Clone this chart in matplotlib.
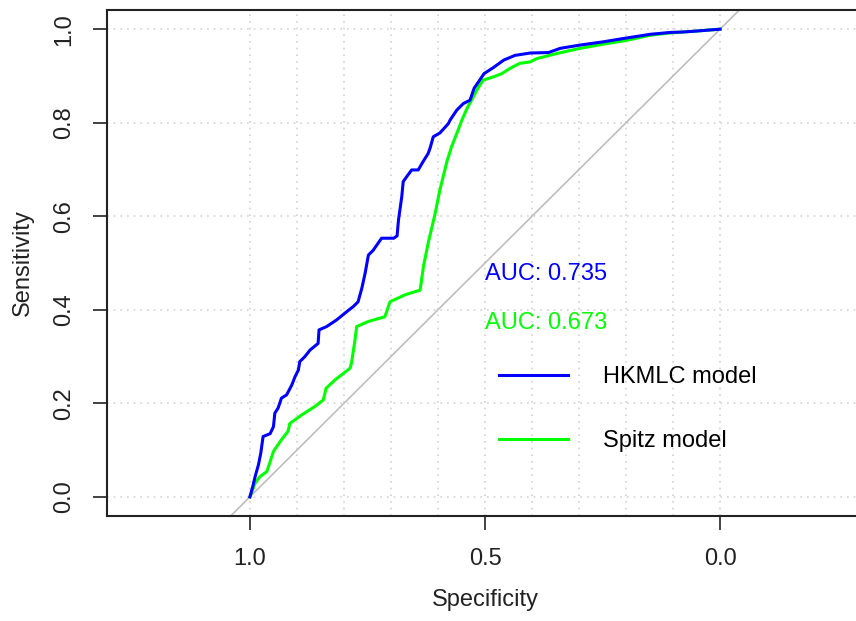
import matplotlib
matplotlib.use("Agg")
import matplotlib.pyplot as plt
import numpy as np

plt.rcParams['font.family'] = ['Liberation Sans', 'DejaVu Sans']

# Curvas ROC (especificidad, sensibilidad)
hkmlc_spec = [1.0, 0.994, 0.989, 0.982, 0.977, 0.972, 0.957, 0.950, 0.947, 0.940,
              0.933, 0.922, 0.911, 0.904, 0.897, 0.894, 0.883, 0.872, 0.855, 0.853,
              0.837, 0.816, 0.794, 0.780, 0.770, 0.762, 0.755, 0.748, 0.738, 0.720,
              0.694, 0.687, 0.684, 0.677, 0.674, 0.667, 0.656, 0.642, 0.631, 0.621,
              0.617, 0.610, 0.596, 0.578, 0.574, 0.560, 0.546, 0.532, 0.523, 0.514,
              0.502, 0.482, 0.460, 0.436, 0.404, 0.365, 0.340, 0.298, 0.248, 0.206,
              0.149, 0.106, 0.078, 0.050, 0.0]
hkmlc_sens = [0.0, 0.022, 0.043, 0.068, 0.093, 0.129, 0.135, 0.150, 0.179, 0.190,
              0.211, 0.218, 0.239, 0.257, 0.271, 0.289, 0.300, 0.314, 0.328, 0.357,
              0.364, 0.378, 0.396, 0.407, 0.417, 0.446, 0.478, 0.517, 0.527, 0.553,
              0.553, 0.558, 0.592, 0.642, 0.674, 0.684, 0.699, 0.699, 0.718, 0.734,
              0.745, 0.770, 0.778, 0.798, 0.806, 0.827, 0.841, 0.848, 0.874, 0.887,
              0.905, 0.918, 0.934, 0.944, 0.949, 0.950, 0.959, 0.966, 0.973, 0.980,
              0.989, 0.993, 0.994, 0.996, 1.0]

spitz_spec = [1.0, 0.989, 0.979, 0.964, 0.957, 0.950, 0.933, 0.919, 0.915, 0.890,
              0.862, 0.844, 0.838, 0.819, 0.787, 0.784, 0.777, 0.773, 0.748, 0.713,
              0.702, 0.670, 0.638, 0.631, 0.621, 0.606, 0.596, 0.581, 0.571, 0.560,
              0.549, 0.538, 0.525, 0.515, 0.504, 0.482, 0.464, 0.447, 0.426, 0.404,
              0.390, 0.347, 0.298, 0.248, 0.199, 0.149, 0.106, 0.050, 0.0]
spitz_sens = [0.0, 0.029, 0.043, 0.054, 0.075, 0.097, 0.122, 0.140, 0.157, 0.175,
              0.193, 0.207, 0.232, 0.250, 0.275, 0.286, 0.332, 0.364, 0.375, 0.385,
              0.417, 0.432, 0.442, 0.492, 0.542, 0.606, 0.656, 0.717, 0.749, 0.777,
              0.806, 0.831, 0.855, 0.874, 0.891, 0.898, 0.905, 0.916, 0.927, 0.930,
              0.937, 0.948, 0.959, 0.968, 0.976, 0.987, 0.992, 0.996, 1.0]

model_names = ["HKMLC model", "Spitz model"]
auc_values = [0.735, 0.673]
colors = ["#0000FF", "#00FF00"]

fig = plt.figure(figsize=(8.56, 6.21), dpi=100)
ax = fig.add_axes([107 / 856, 105 / 621, 756 / 856, 506 / 621])

# Rejilla punteada
for g in np.arange(0, 1.01, 0.1):
    ax.axvline(g, color="#D3D3D3", linestyle=(0, (1, 3)), lw=1.2, zorder=0)
for g in np.arange(0, 1.01, 0.2):
    ax.axhline(g, color="#D3D3D3", linestyle=(0, (1, 3)), lw=1.2, zorder=0)

# Diagonal de referencia
ax.plot([1.5, -0.5], [-0.5, 1.5], color="#BEBEBE", lw=1.2, zorder=1)

ax.plot(hkmlc_spec, hkmlc_sens, color=colors[0], lw=2.2, label=model_names[0], zorder=3)
ax.plot(spitz_spec, spitz_sens, color=colors[1], lw=2.2, label=model_names[1], zorder=2)

ax.set_xlim(1.304, -0.304)
ax.set_ylim(-0.041, 1.041)

ax.text(0.5, 0.476, f"AUC: {auc_values[0]:.3f}", color=colors[0], fontsize=17,
        ha="left", va="center")
ax.text(0.5, 0.372, f"AUC: {auc_values[1]:.3f}", color=colors[1], fontsize=17,
        ha="left", va="center")

ax.legend(loc="upper left", bbox_to_anchor=(0.470, 0.279), bbox_transform=ax.transData,
          frameon=False, fontsize=17, handlelength=2.9, handletextpad=1.5,
          labelspacing=1.78, borderpad=0, borderaxespad=0)

ax.set_xticks([1.0, 0.5, 0.0])
ax.set_xticklabels(["1.0", "0.5", "0.0"])
ax.set_yticks([0.0, 0.2, 0.4, 0.6, 0.8, 1.0])
ax.set_yticklabels(["0.0", "0.2", "0.4", "0.6", "0.8", "1.0"], rotation=90, va="center")
ax.tick_params(axis="both", labelsize=17, length=10, width=1.2, colors="#222222", pad=13)
for s in ax.spines.values():
    s.set_linewidth(1.5)
    s.set_color("#222222")

ax.set_xlabel("Specificity", fontsize=17, color="#222222", labelpad=14)
ax.set_ylabel("Sensitivity", fontsize=17, color="#222222", labelpad=14)

fig.savefig("out.png", dpi=100)
